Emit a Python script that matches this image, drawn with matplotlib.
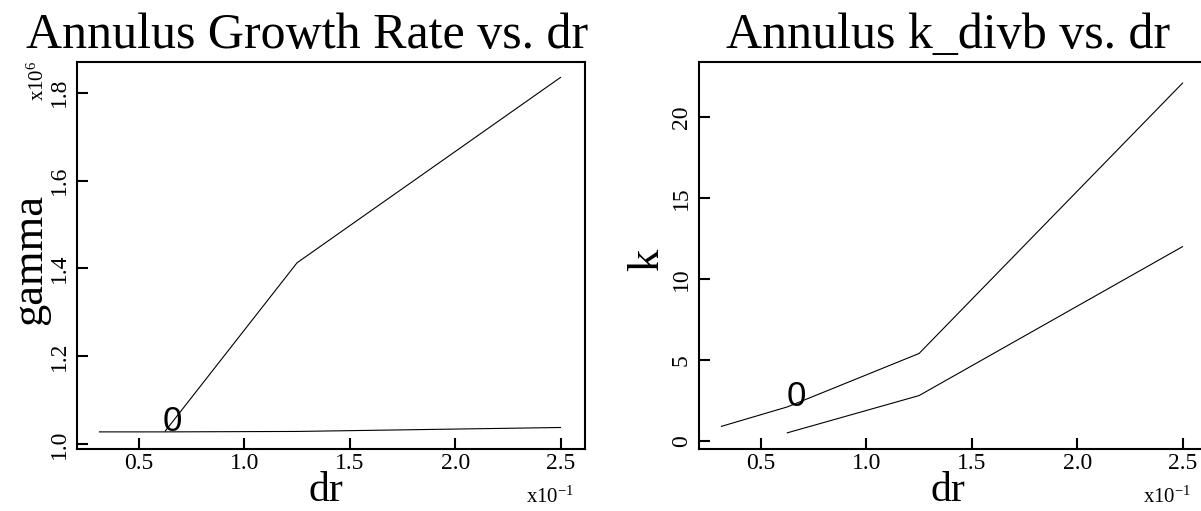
import matplotlib
matplotlib.use("Agg")
import matplotlib.pyplot as plt
import numpy as np

# grid spacing dr and results
dr = np.array([0.03125, 0.0625, 0.125, 0.25])
gamma_upper = np.array([1.030e6, 1.413e6, 1.835e6])      # on dr[1:]
gamma_lower = np.array([1.028e6, 1.028e6, 1.029e6, 1.038e6])
k_upper = np.array([0.9, 2.1, 5.4, 22.1])
k_lower = np.array([0.5, 2.8, 12.0])                       # on dr[1:]

xticks = [0.5, 1.0, 1.5, 2.0, 2.5]
gticks = [1.0, 1.2, 1.4, 1.6, 1.8]
kticks = [0, 5, 10, 15, 20]

plt.rcParams['font.family'] = ['Liberation Serif', 'DejaVu Serif']
plt.rcParams['mathtext.fontset'] = 'custom'
plt.rcParams['mathtext.rm'] = 'Liberation Serif'
plt.rcParams['mathtext.default'] = 'regular'

fig = plt.figure(figsize=(12.01, 5.11), dpi=100)
ax1 = fig.add_axes([0.0641, 0.1213, 0.423, 0.7573])
ax2 = fig.add_axes([0.582, 0.1213, 0.423, 0.7573])

for ax in (ax1, ax2):
    for s in ax.spines.values():
        s.set_linewidth(1.5)
    ax.tick_params(direction='in', length=8, width=1.5, labelsize=17, pad=5)
    ax.tick_params(axis='x', pad=3)
    ax.set_xticks(xticks)
    ax.set_xticklabels([f"{t:.1f}" for t in xticks])
    ax.set_xlim(0.206, 2.616)
    ax.set_xlabel('dr', fontsize=30)
    ax.xaxis.label.set_va('baseline')
    ax.xaxis.set_label_coords(0.49, -0.135)

# left panel
ax1.plot(dr[1:] * 10, gamma_upper / 1e6, color='black', lw=0.8)
ax1.plot(dr * 10, gamma_lower / 1e6, color='black', lw=0.8)
ax1.set_ylim(0.989, 1.870)
ax1.set_yticks(gticks)
ax1.set_yticklabels([f"{t:.1f}" for t in gticks], rotation=90, va='center')
ax1.set_ylabel('gamma', fontsize=32)
ax1.yaxis.set_label_coords(-0.052, 0.49)
ax1.text(0.066 * 10, 1.029, '0', fontsize=25, ha='center', va='baseline',
         family=['Liberation Sans Narrow', 'Liberation Sans'])
fig.text(0.2556, 0.906, 'Annulus Growth Rate vs. dr', fontsize=36,
         ha='center', va='baseline')
fig.text(0.032, 0.842, r'x10$^{6}$', rotation=90, fontsize=15, ha='center', va='center')
fig.text(0.458, 0.016, r'x10$^{-1}$', fontsize=15, ha='center', va='baseline')

# right panel
ax2.plot(dr * 10, k_upper, color='black', lw=0.8)
ax2.plot(dr[1:] * 10, k_lower, color='black', lw=0.8)
ax2.set_ylim(-0.5, 23.4)
ax2.set_yticks(kticks)
ax2.set_yticklabels([str(t) for t in kticks], rotation=90, va='center')
ax2.set_ylabel('k', fontsize=32)
ax2.yaxis.set_label_coords(-0.062, 0.49)
ax2.text(0.067 * 10, 2.15, '0', fontsize=25, ha='center', va='baseline',
         family=['Liberation Sans Narrow', 'Liberation Sans'])
fig.text(0.789, 0.906, 'Annulus k_divb vs. dr', fontsize=36,
         ha='center', va='baseline')
fig.text(0.972, 0.016, r'x10$^{-1}$', fontsize=15, ha='center', va='baseline')

fig.savefig('out.png', dpi=100)
